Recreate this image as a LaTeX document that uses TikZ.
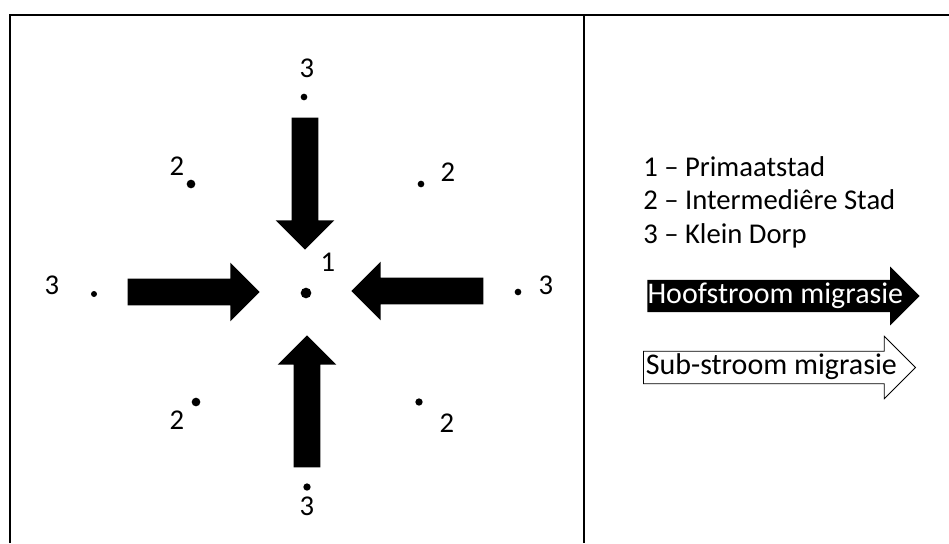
\documentclass[tikz,border=0pt]{standalone}
\usepackage{fontspec}
\setmainfont{Carlito}
\usepackage{tikz}
\usetikzlibrary{shapes.arrows}

\begin{document}
\begin{tikzpicture}[x=0.75pt,y=-0.75pt,
  dot/.style={circle,fill=black,inner sep=0pt,minimum size=#1},
  num/.style={inner sep=0pt,font=\fontsize{21.5}{25}\selectfont},
  blockarrow/.style={single arrow,fill=black,inner xsep=0pt,inner ysep=9.75pt,
    minimum height=99pt,single arrow head extend=12pt},
  keyarrow/.style={single arrow,anchor=tail,inner xsep=0pt,inner ysep=0.8pt,
    text height=16.4pt,text depth=5.8pt,font=\fontsize{22.5}{26}\selectfont}]
  \useasboundingbox (0,0) rectangle (949,543);
  \draw[line width=1.8pt] (10,543) |- (949,15);
  \draw[line width=1.8pt] (584,15) -- (584,543);
  % stad en dorpe
  \node[dot=8pt]   (prim) at (306,293) {};
  \node[dot=5pt]   (dorpN) at (304,97) {};
  \node[dot=5.5pt] (dorpS) at (307,487) {};
  \node[dot=4.5pt] (dorpW) at (94,294) {};
  \node[dot=5pt]   (dorpE) at (518,292) {};
  \node[dot=6.5pt] (interNW) at (191,184) {};
  \node[dot=5pt]   (interNE) at (421,184) {};
  \node[dot=6.5pt] (interSW) at (196,402) {};
  \node[dot=5.5pt] (interSE) at (419,402) {};
  \node[num] (lprim) at (328,262) {1};
  \node[num] (ldorpN) at (307,68) {3};
  \node[num] (ldorpS) at (307,506) {3};
  \node[num] (ldorpW) at (52,285) {3};
  \node[num] (ldorpE) at (546,285) {3};
  \node[num] (linterNW) at (177,166) {2};
  \node[num] (linterNE) at (448,172) {2};
  \node[num] (linterSW) at (177,420) {2};
  \node[num] (linterSE) at (447,423) {2};
  % hoofstroom na die primaatstad
  \node[blockarrow,rotate=-90] (pijlN) at (305,177) {};
  \node[blockarrow,rotate=90]  (pijlS) at (307,408) {};
  \node[blockarrow]            (pijlW) at (187,292) {};
  \node[blockarrow,rotate=180] (pijlE) at (424,291) {};
  % sleutel
  \node[num,anchor=base west] (key1) at (643,176) {1 – Primaatstad};
  \node[num,anchor=base west] (key2) at (643,209) {2 – Intermediêre Stad};
  \node[num,anchor=base west] (key3) at (643,243) {3 – Klein Dorp};
  \node[keyarrow,fill=black,text=white,single arrow head extend=10pt] (hoof) at (647,296) {Hoofstroom migrasie};
  \node[keyarrow,draw=black,line width=0.6pt,fill=white,inner xsep=1.5pt,
    single arrow head extend=11.25pt] (sub) at (643,367.5) {Sub-stroom migrasie};
\end{tikzpicture}
\end{document}
